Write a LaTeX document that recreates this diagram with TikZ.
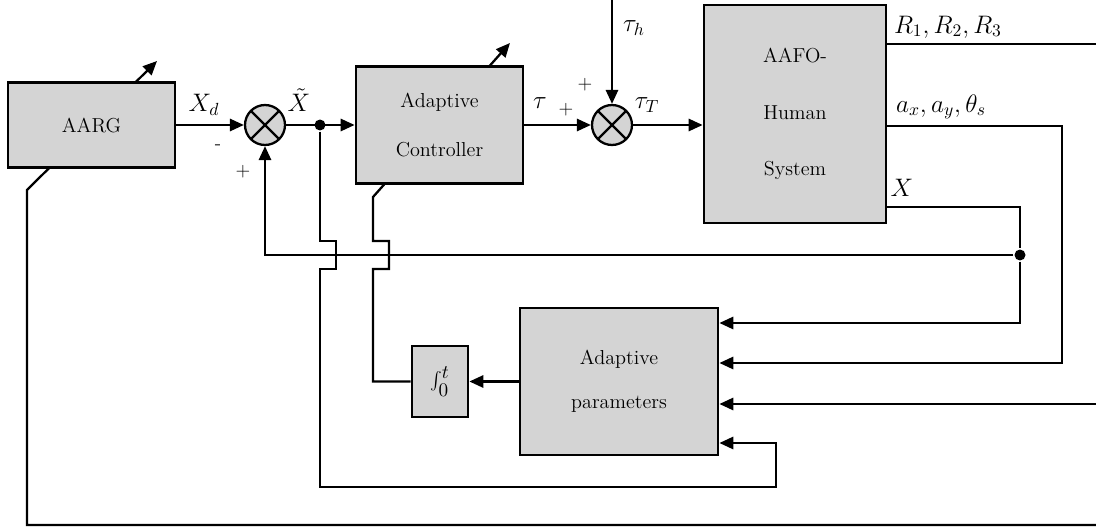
\documentclass[tikz,border=0pt]{standalone}
\usetikzlibrary{arrows.meta,backgrounds}
\definecolor{blockgray}{RGB}{212,212,212}
\begin{document}
\begin{tikzpicture}[x=0.02cm, y=-0.02cm, line width=1.3pt,
    >={Triangle[length=8pt,width=7pt]},
    every node/.style={font=\fontsize{11.5}{14}\selectfont},
    block/.style={rectangle, draw, fill=blockgray, line width=1.6pt, align=center, inner sep=0pt},
    sumjct/.style={circle, draw, fill=blockgray, minimum size=0.8cm, inner sep=0pt,
      path picture={\draw (path picture bounding box.north west) -- (path picture bounding box.south east)
        (path picture bounding box.north east) -- (path picture bounding box.south west);}},
    junc/.style={circle, fill, minimum size=0.22cm, inner sep=0pt},
    sig/.style={font=\fontsize{14}{16}\selectfont},
    sgn/.style={font=\fontsize{11}{13}\selectfont},
    wire/.style={line width=1.3pt}
    ]
    \useasboundingbox (0,0) rectangle (1096,527);

    % blocks
    \node[block, minimum width=3.34cm, minimum height=1.7cm] (aarg) at (91.5,125) {AARG};
    \node[sumjct] (sum1) at (265,125) {};
    \node[block, minimum width=3.34cm, minimum height=2.34cm] (ctrl) at (439.5,125) {Adaptive\\[14pt]Controller};
    \node[sumjct] (sum2) at (612,125) {};
    \node[block, minimum width=3.64cm, minimum height=4.36cm] (plant) at (795,114) {AAFO-\\[18pt]Human\\[18pt]System};
    \node[block, minimum width=3.96cm, minimum height=2.94cm] (adapt) at (619,381.5) {Adaptive\\[11pt]parameters};
    \node[block, minimum width=1.12cm, minimum height=1.42cm, font=\fontsize{16}{18}\selectfont] (integ) at (440,381.5) {$\int_0^t$};
    \node[junc] (d1) at (320,125) {};
    \node[junc] (d2) at (1020,255) {};

    \coordinate (th) at (612,0);
    \coordinate (rout) at (1096,44);
    \coordinate (rin) at (1096,404);
    \coordinate (bin) at (1096,525);
    \coordinate (ctrltip) at (510,43);
    \coordinate (aargtip) at (157,61);

    % forward path
    \draw[->] (aarg) -- (sum1);
    \draw[->] (sum1) -- (ctrl);
    \draw[->] (ctrl) -- (sum2);
    \draw[->] (sum2) -- (sum2 -| plant.west);
    \draw[->] (th) -- (sum2);

    % plant outputs
    \draw (plant.east |- rout) -- (rout);
    \draw[->] (plant.east |- 0,126) -- (1062,126) |- (adapt.east |- 0,363);
    \draw[->] (plant.east |- 0,207) -| (d2) |- (adapt.east |- 0,323);
    \draw[->] (d2) -- (d2 -| sum1) -- (sum1);
    \draw[->] (rin) -- (adapt.east |- rin);
    \draw[->] (d1) -- (320,241) -- (336,241) -- (336,269) -- (320,269) |- (776,487) |- (adapt.east |- 0,443);
    \draw[->] (adapt) -- (integ);

    % adaptation lines
    \begin{pgfonlayer}{background}
      \draw[wire, ->] (integ.west) -- (373,381.5) -- (373,269) -- (389,269) -- (389,241) -- (373,241) -- (373,197) -- (ctrltip);
      \draw[wire, ->] (bin) -- (27,525) -- (27,190) -- (aargtip);
    \end{pgfonlayer}

    % labels
    \node[sig] (lxd) at (204,105) {$X_d$};
    \node[sig] (lxt) at (299,100) {$\tilde{X}$};
    \node[sgn] (lm1) at (218,147) {-};
    \node[sgn] (lp1) at (243,172) {+};
    \node[sig] (ltau) at (540,103) {$\tau$};
    \node[sgn] (lp2) at (566,110) {+};
    \node[sgn] (lp3) at (585,85) {+};
    \node[sig] (lth) at (634,28) {$\tau_h$};
    \node[sig] (ltt) at (647,105) {$\tau_T$};
    \node[sig] (lr) at (948,27) {$R_1, R_2, R_3$};
    \node[sig] (la) at (941,107) {$a_x, a_y, \theta_s$};
    \node[sig] (lx) at (902,188) {$X$};
  \end{tikzpicture}
\end{document}
